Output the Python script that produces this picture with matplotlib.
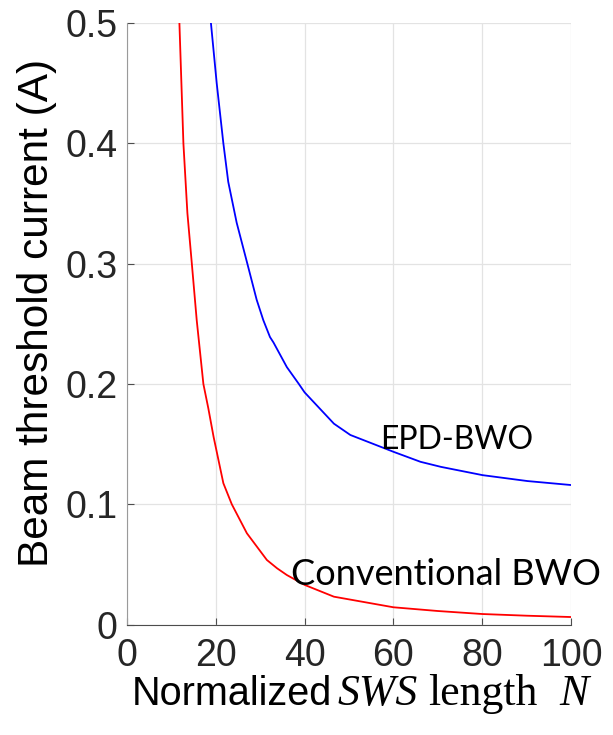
# Beam threshold current vs normalized SWS length
import matplotlib.pyplot as plt

# red curve: conventional BWO
conv_n = [11.8, 12.7, 13.6, 14.6, 15.7, 17.2, 18.3, 19.5, 21.7, 23.6, 27.0,
          31.5, 33.8, 36.0, 40.0, 46.6, 60.0, 70.0, 80.0, 90.0, 100.0]
conv_i = [0.5, 0.4, 0.342, 0.3, 0.253, 0.2, 0.18, 0.156, 0.1175, 0.1,
          0.0759, 0.0537, 0.0468, 0.0412, 0.033, 0.0232, 0.0144, 0.0113,
          0.0088, 0.0074, 0.0063]

# blue curve: EPD-BWO
epd_n = [18.9, 20.2, 21.7, 22.8, 24.7, 27.1, 29.2, 30.7, 32.2, 33.0, 36.0,
         38.7, 40.0, 46.6, 50.3, 60.1, 66.1, 70.7, 80.1, 90.2, 100.0]
epd_i = [0.5, 0.45, 0.4, 0.368, 0.334, 0.3, 0.27, 0.253, 0.239, 0.2344,
         0.214, 0.2, 0.193, 0.167, 0.1576, 0.1435, 0.1353, 0.1311, 0.1242,
         0.1193, 0.116]

xticks = [0, 20, 40, 60, 80, 100]
yticks = [0, 0.1, 0.2, 0.3, 0.4, 0.5]
ytick_labels = ['0', '0.1', '0.2', '0.3', '0.4', '0.5']

plt.rcParams['font.family'] = ['Liberation Sans', 'DejaVu Sans']

fig = plt.figure(figsize=(6.13, 7.35), dpi=100)
ax = fig.add_axes([0.2072, 0.1502, 0.7243, 0.8185])

ax.plot(conv_n, conv_i, color='#ff0000', lw=1.3)
ax.plot(epd_n, epd_i, color='#0000ff', lw=1.3)

ax.set_xlim(0, 100)
ax.set_ylim(0, 0.5)
ax.set_xticks(xticks)
ax.set_yticks(yticks)
ax.set_yticklabels(ytick_labels)

# matlab-ish axes look
ax.grid(True, color='#e3e3e3', lw=0.9)
ax.set_axisbelow(True)
for s in ['top', 'right']:
    ax.spines[s].set_visible(False)
ax.spines['left'].set_color('#9a9a9a')
ax.spines['bottom'].set_color('#4d4d4d')
ax.tick_params(direction='in', length=5, width=0.8, colors='#4d4d4d',
               labelsize=27, labelcolor='#262626')
ax.tick_params(axis='x', pad=10)
ax.tick_params(axis='y', pad=7)

ax.set_ylabel('Beam threshold current (A)', fontsize=30.5, color='black')
ax.yaxis.set_label_coords(-0.158, 0.518)

# x label: sans part + serif math-type part
base = 1 - 705 / 735
fig.text(132 / 613, base, 'Normalized', fontsize=28.5,
         family='Liberation Sans', ha='left', va='baseline')
fig.text(337 / 613, base, 'SWS', fontsize=31.5, family='Liberation Serif',
         style='italic', ha='left', va='baseline')
fig.text(428 / 613, base, 'length', fontsize=31.5,
         family='Liberation Serif', ha='left', va='baseline')
fig.text(559 / 613, base, 'N', fontsize=31.5, family='Liberation Serif',
         style='italic', ha='left', va='baseline')

# curve annotations
ax.text(380 / 613, 1 - 449 / 735, 'EPD-BWO', transform=fig.transFigure,
        fontsize=23, family='Lato', ha='left', va='baseline', clip_on=False)
ax.text(291 / 613, 1 - 585 / 735, 'Conventional BWO',
        transform=fig.transFigure, fontsize=26, family='Lato', ha='left',
        va='baseline', clip_on=False)

plt.savefig('out.png', dpi=100)
